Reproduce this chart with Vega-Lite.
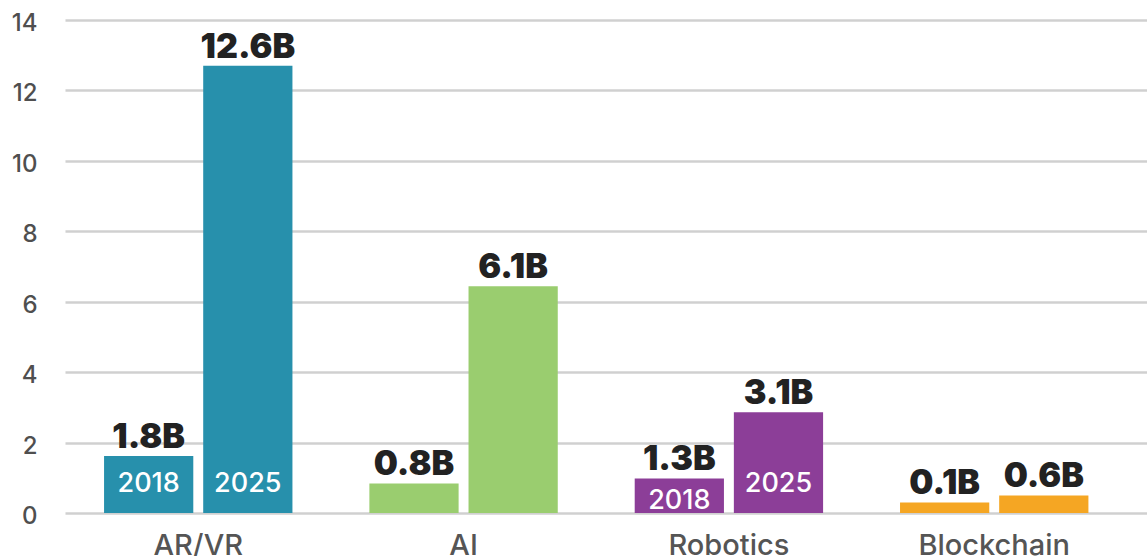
{
  "$schema": "https://vega.github.io/schema/vega-lite/v6.json",
  "width": 1082,
  "height": 493,
  "autosize": "none",
  "padding": {"left": 65, "top": 20, "right": 0, "bottom": 43},
  "background": "#ffffff",
  "config": {
    "view": {"stroke": null},
    "font": "Inter"
  },
  "data": {
    "values": [
      {"category": "AR/VR", "year": "2018", "value": 1.62, "label": "1.8B", "showYear": true},
      {"category": "AR/VR", "year": "2025", "value": 12.7, "label": "12.6B", "showYear": true},
      {"category": "AI", "year": "2018", "value": 0.84, "label": "0.8B", "showYear": false},
      {"category": "AI", "year": "2025", "value": 6.44, "label": "6.1B", "showYear": false},
      {"category": "Robotics", "year": "2018", "value": 0.98, "label": "1.3B", "showYear": true},
      {"category": "Robotics", "year": "2025", "value": 2.86, "label": "3.1B", "showYear": true},
      {"category": "Blockchain", "year": "2018", "value": 0.3, "label": "0.1B", "showYear": false},
      {"category": "Blockchain", "year": "2025", "value": 0.5, "label": "0.6B", "showYear": false}
    ]
  },
  "encoding": {
    "x": {
      "field": "category",
      "type": "nominal",
      "sort": ["AR/VR", "AI", "Robotics", "Blockchain"],
      "scale": {"paddingInner": 0.29, "paddingOuter": 0.184, "align": 0.4},
      "axis": {
        "title": null,
        "labelAngle": 0,
        "ticks": false,
        "domain": false,
        "labelFontSize": 29,
        "labelFontWeight": 500,
        "labelColor": "#555555",
        "labelPadding": 18,
        "labelBaseline": "top"
      }
    },
    "xOffset": {
      "field": "year",
      "type": "nominal",
      "scale": {"paddingInner": 0.1}
    },
    "y": {
      "field": "value",
      "type": "quantitative",
      "scale": {"domain": [0, 14], "nice": false},
      "axis": {
        "title": null,
        "values": [0, 2, 4, 6, 8, 10, 12, 14],
        "ticks": false,
        "domain": false,
        "grid": true,
        "gridColor": "#d0d0d0",
        "gridWidth": 2.5,
        "labelFontSize": 24,
        "labelFontWeight": 500,
        "labelColor": "#4f4f4f",
        "labelPadding": 28,
        "labelOffset": 3.5
      }
    }
  },
  "layer": [
    {
      "mark": {"type": "bar"},
      "encoding": {
        "color": {
          "field": "category",
          "type": "nominal",
          "scale": {
            "domain": ["AR/VR", "AI", "Robotics", "Blockchain"],
            "range": ["#2790ac", "#9acd6f", "#8c3e98", "#f5a623"]
          },
          "legend": null
        }
      }
    },
    {
      "mark": {
        "type": "text",
        "baseline": "alphabetic",
        "dy": -8,
        "fontSize": 34,
        "fontWeight": 900,
        "color": "#222222"
      },
      "encoding": {
        "text": {"field": "label"}
      }
    },
    {
      "transform": [{"filter": "datum.showYear && datum.value > 1.2"}],
      "mark": {
        "type": "text",
        "baseline": "alphabetic",
        "dy": -21.5,
        "fontSize": 27,
        "fontWeight": 500,
        "color": "#ffffff"
      },
      "encoding": {
        "y": {"datum": 0, "type": "quantitative"},
        "text": {"field": "year"}
      }
    },
    {
      "transform": [{"filter": "datum.showYear && datum.value <= 1.2"}],
      "mark": {
        "type": "text",
        "baseline": "alphabetic",
        "dy": -4,
        "fontSize": 27,
        "fontWeight": 500,
        "color": "#ffffff"
      },
      "encoding": {
        "y": {"datum": 0, "type": "quantitative"},
        "text": {"field": "year"}
      }
    }
  ]
}
